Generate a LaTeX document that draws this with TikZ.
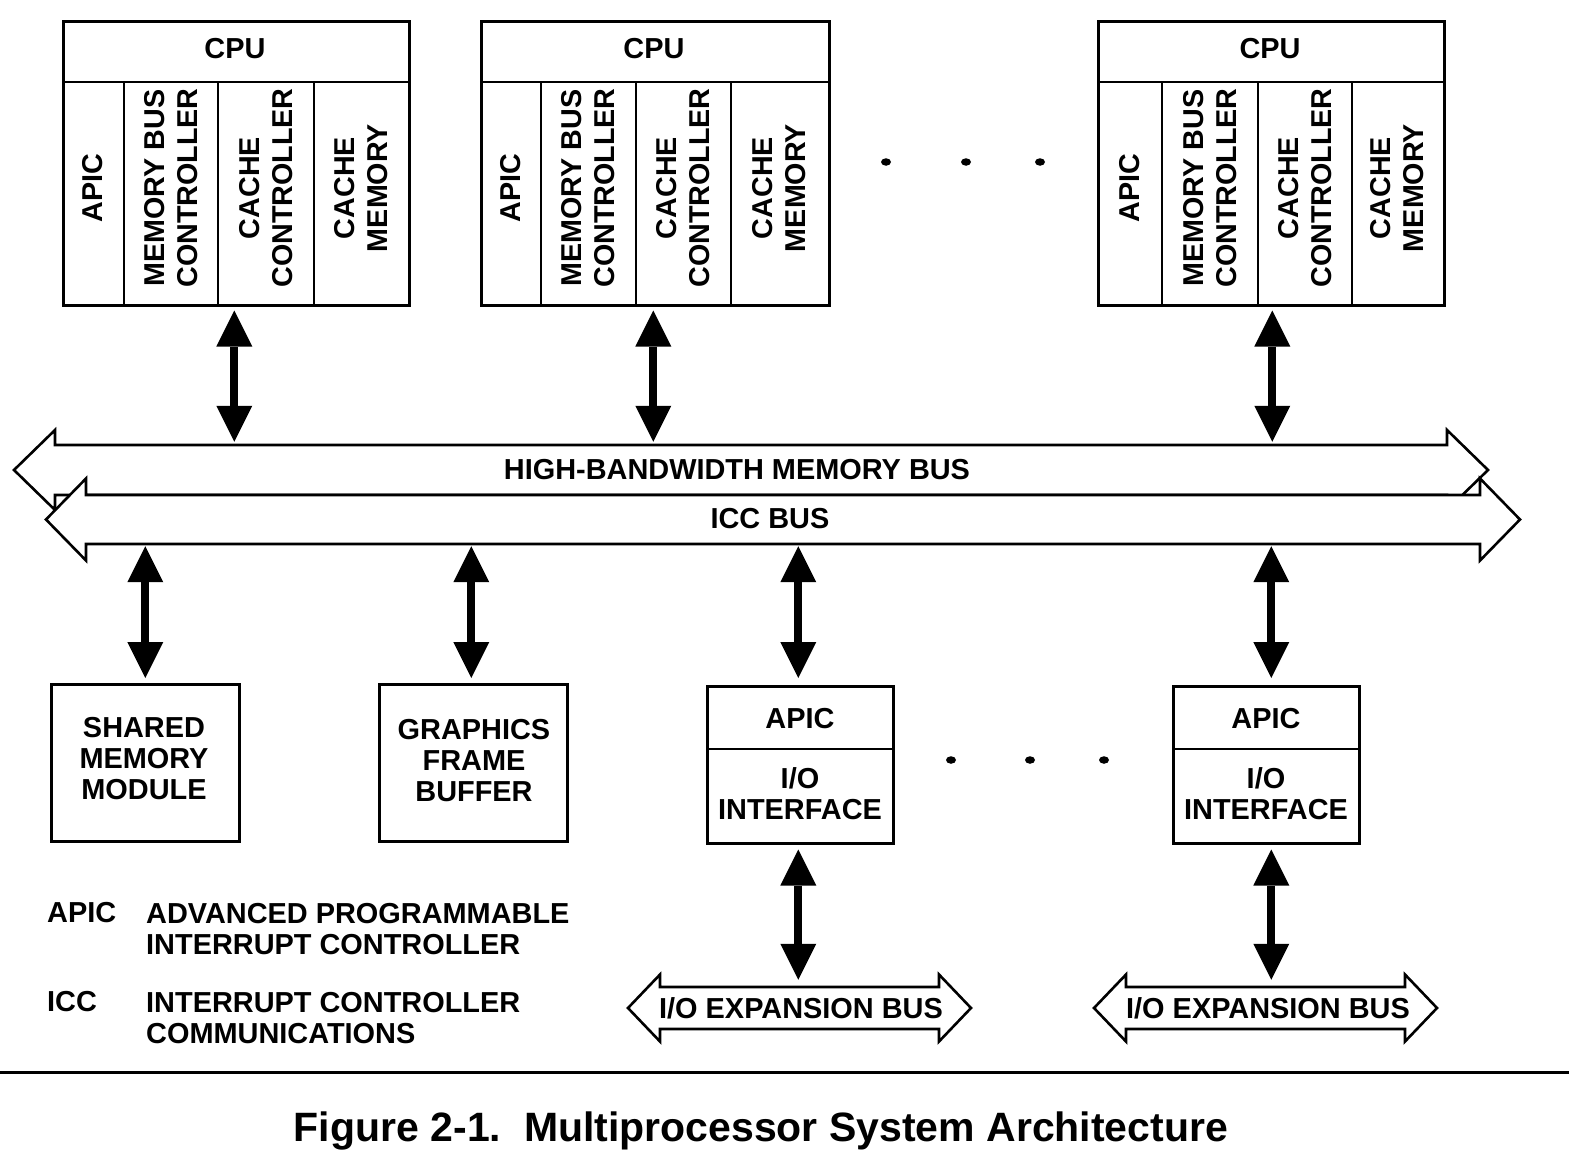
\documentclass[tikz,border=0pt]{standalone}
\usepackage{fontspec}
\setmainfont{Liberation Sans}
\usetikzlibrary{arrows.meta,calc,shapes.geometric}
\tikzset{
  box/.style={draw, line width=2.6pt, inner sep=0pt},
  lbl/.style={font=\bfseries\fontsize{28.9}{31}\selectfont, align=center, inner sep=0pt},
  vlbl/.style={font=\bfseries\fontsize{28.7}{33}\selectfont, align=center, inner sep=0pt, rotate=90},
  link/.style={line width=8pt, shorten <=4pt, shorten >=3pt,
    {Triangle[length=36pt,width=36pt,line width=0pt]}-{Triangle[length=36pt,width=36pt,line width=0pt]}},
  busline/.style={draw, line width=2.6pt, fill=white, line join=miter},
  shaft/.style={inner sep=0pt, minimum height=#1},
  dot/.style={ellipse, fill, inner sep=0pt, minimum width=10pt, minimum height=7.5pt},
  divline/.style={line width=2.6pt},
}
% cx, cy, half length, head length, shaft half height, head half height
\newcommand\busoutline[6]{%
  \path[busline] ({#1-#3},#2) -- ({#1-#3+#4},{#2-#6}) -- ({#1-#3+#4},{#2-#5})
    -- ({#1+#3-#4},{#2-#5}) -- ({#1+#3-#4},{#2-#6}) -- ({#1+#3},#2)
    -- ({#1+#3-#4},{#2+#6}) -- ({#1+#3-#4},{#2+#5}) -- ({#1-#3+#4},{#2+#5})
    -- ({#1-#3+#4},{#2+#6}) -- cycle;}
\begin{document}
\begin{tikzpicture}[x=1pt,y=-1pt]
\useasboundingbox (0,0) rectangle (1569,1159);

% ---------- CPU boxes ----------
\foreach \n/\l/\a/\b/\c/\r in {1/62/124/218/314/408, 2/480/541/636/731/828, 3/1097/1162/1258/1352/1443} {
  \node[box, anchor=north west, minimum width={\r-\l}, minimum height=284] (cpu\n) at (\l,20) {};
  \draw[divline] (\l,82) -- (\r,82);
  \draw[divline] (\a,82) -- (\a,304);
  \draw[divline] (\b,82) -- (\b,304);
  \draw[divline] (\c,82) -- (\c,304);
  \node[lbl] (cpu\n t) at ({(\l+\r)/2},49) {CPU};
  \node[vlbl] (cpu\n a) at ({(\l+\a)/2},188) {APIC};
  \node[vlbl] (cpu\n b) at ({(\a+\b)/2},188) {MEMORY BUS\\CONTROLLER};
  \node[vlbl] (cpu\n c) at ({(\b+\c)/2},188) {CACHE\\CONTROLLER};
  \node[vlbl] (cpu\n d) at ({(\c+\r)/2},188) {CACHE\\MEMORY};
}

% dots between CPUs
\node[dot] (d1) at (886,162) {};
\node[dot] (d2) at (966,162) {};
\node[dot] (d3) at (1040,162) {};

% ---------- buses ----------
\busoutline{751}{470}{737}{41}{25}{40}
\busoutline{783}{519.5}{737}{40}{24.5}{41}
\node[shaft=50, minimum width=1392] (mbus) at (751,470) {};
\node[shaft=49, minimum width=1392] (icc) at (783,519.5) {};
\node[lbl] (mbust) at (737,470) {HIGH-BANDWIDTH MEMORY BUS};
\node[lbl] (icct) at (770,519) {ICC BUS};

% CPU to memory bus
\draw[link] ([xshift=-2pt]cpu1.south) -- ([xshift=-2pt]cpu1.south |- mbus.north);
\draw[link] ([xshift=-2pt]cpu2.south) -- ([xshift=-2pt]cpu2.south |- mbus.north);
\draw[link] ([xshift=1pt]cpu3.south) -- ([xshift=1pt]cpu3.south |- mbus.north);

% ---------- lower boxes ----------
\node[box, anchor=north west, minimum width=188, minimum height=157] (smm) at (50,683) {};
\node[lbl] (smmt) at (144,759) {SHARED\\MEMORY\\MODULE};
\node[box, anchor=north west, minimum width=188, minimum height=157] (gfb) at (378,683) {};
\node[lbl] (gfbt) at (474,761) {GRAPHICS\\FRAME\\BUFFER};

\node[box, anchor=north west, minimum width=186, minimum height=157] (io1) at (706,685) {};
\draw[divline] (io1.west |- 0,749) -- (io1.east |- 0,749);
\node[lbl] (io1a) at (800,719) {APIC};
\node[lbl] (io1b) at (800,794) {I/O\\INTERFACE};

\node[box, anchor=north west, minimum width=186, minimum height=157] (io2) at (1172,685) {};
\draw[divline] (io2.west |- 0,749) -- (io2.east |- 0,749);
\node[lbl] (io2a) at (1266,719) {APIC};
\node[lbl] (io2b) at (1266,794) {I/O\\INTERFACE};

% dots between I/O units
\node[dot] (d4) at (951,760) {};
\node[dot] (d5) at (1030,760) {};
\node[dot] (d6) at (1104,760) {};

% ICC bus to lower boxes
\draw[link, shorten <=2pt, shorten >=5pt] (icc.south -| smm.north) -- (smm.north);
\draw[link, shorten <=2pt, shorten >=5pt] ([xshift=-2pt]icc.south -| gfb.north) -- ([xshift=-2pt]gfb.north);
\draw[link, shorten <=2pt, shorten >=7pt] ([xshift=-2pt]icc.south -| io1.north) -- ([xshift=-2pt]io1.north);
\draw[link, shorten <=2pt, shorten >=7pt] ([xshift=5pt]icc.south -| io2.north) -- ([xshift=5pt]io2.north);

% ---------- I/O expansion buses ----------
\busoutline{799.5}{1008}{171.5}{32}{21}{33.5}
\busoutline{1265.5}{1008}{171.5}{32}{21}{33.5}
\node[shaft=42, minimum width=279] (iob1) at (799.5,1008) {};
\node[shaft=42, minimum width=279] (iob2) at (1265.5,1008) {};
\node[lbl] (iob1t) at (801,1008) {I/O EXPANSION BUS};
\node[lbl] (iob2t) at (1268,1008) {I/O EXPANSION BUS};

\draw[link, shorten <=5pt, shorten >=7pt] ([xshift=-2pt]io1.south) -- ([xshift=-2pt]io1.south |- iob1.north);
\draw[link, shorten <=5pt, shorten >=7pt] ([xshift=5pt]io2.south) -- ([xshift=5pt]io2.south |- iob2.north);

% ---------- legend ----------
\node[lbl, anchor=west] (lg1) at (47,913) {APIC};
\node[lbl, anchor=north west, align=left] (lg2) at (146,903) {ADVANCED PROGRAMMABLE\\INTERRUPT CONTROLLER};
\node[lbl, anchor=west] (lg3) at (47,1002) {ICC};
\node[lbl, anchor=north west, align=left] (lg4) at (146,992) {INTERRUPT CONTROLLER\\COMMUNICATIONS};

% ---------- rule and caption ----------
\coordinate (rl) at (0,1072);
\coordinate (rr) at (1569,1072);
\draw[line width=3pt] (rl) -- (rr);
\node[font=\bfseries\fontsize{41}{45}\selectfont, inner sep=0pt, anchor=base] (cap) at (761,1141) {Figure 2-1.\ \ Multiprocessor System Architecture};
\end{tikzpicture}
\end{document}
